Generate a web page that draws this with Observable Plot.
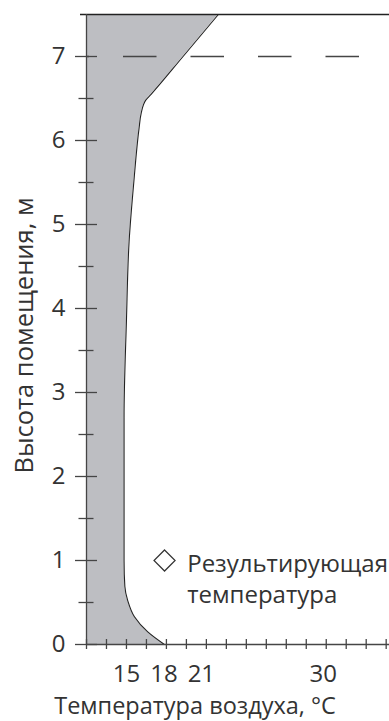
<!DOCTYPE html>
<html><head><meta charset="utf-8">
<script src="https://cdn.jsdelivr.net/npm/d3@7"></script>
<script src="https://cdn.jsdelivr.net/npm/@observablehq/plot@0.6"></script>
<style>body{margin:0;background:#fff;}</style>
</head><body><div id="chart"></div>
<script>
// Profile of air temperature over room height
const heights = [0, 0.15, 0.33, 0.52, 0.69, 1.0, 2.0, 2.7, 3.86, 4.8, 5.5, 6.15, 6.32, 6.48, 6.55, 7.0, 7.5];
const temps   = [17.85, 16.6, 15.6, 15.1, 14.88, 14.82, 14.82, 14.82, 15.0, 15.2, 15.55, 15.95, 16.1, 16.45, 16.85, 19.25, 21.9];

const xTickValues = [12, 13.5, 15, 16.5, 18, 19.5, 21, 22.5, 24, 25.5, 27, 28.5, 30, 31.5, 33, 34.5];
const xLabelValues = [15, 18, 21, 30];
const yMajorTicks = [0, 1, 2, 3, 4, 5, 6, 7];
const yMinorTicks = [0.5, 1.5, 2.5, 3.5, 4.5, 5.5, 6.5];
const topHeight = [7.5];
const dashedHeight = [7];
const xTitle = ["Температура воздуха, °C"];
const yTitle = ["Высота помещения, м"];
const legendLabel = ["Результирующая\nтемпература"];
const legendMarker = [{t: 17.86, h: 1.0}];
const legendText = [{t: 19.56, h: 1.13}];

const xMin = 12, xMax = 34.75, yMax = 7.5;
const profile = heights.map((h, i) => ({h, t: temps[i]}));
const axisColor = "#454545";
const textColor = "#333";
// small visual nudges of the tick labels, as in the original typesetting
const labelNudge = [0, -2.5, -5, -3];

const plot = Plot.plot({
  width: 389, height: 721,
  marginLeft: 86, marginRight: 0, marginTop: 14, marginBottom: 77,
  style: {fontFamily: "'Open Sans', sans-serif", fontSize: "24px", color: textColor, background: "#fff"},
  x: {domain: [xMin, xMax]},
  y: {domain: [0, yMax]},
  marks: [
    Plot.areaX(profile, {x1: xMin, x2: "t", y: "h", curve: "monotone-y", fill: "#bdbec2"}),
    Plot.lineX(profile, {x: "t", y: "h", curve: "monotone-y", stroke: "#222", strokeWidth: 1.1}),
    Plot.ruleY(dashedHeight, {stroke: axisColor, strokeWidth: 1.3, strokeDasharray: "33.5,34", strokeDashoffset: 30.5}),
    Plot.ruleY(topHeight, {stroke: "#222", strokeWidth: 1.5, insetLeft: -6}),
    Plot.ruleX([xMin], {y1: 0, y2: yMax, stroke: axisColor, strokeWidth: 1.3}),
    Plot.ruleY([0], {stroke: axisColor, strokeWidth: 1.3}),
    Plot.ruleX(xTickValues, {y1: 0, y2: 0, insetTop: -5, insetBottom: -5, stroke: axisColor, strokeWidth: 1.3}),
    Plot.ruleY(yMajorTicks, {x1: xMin, x2: xMin, insetLeft: -11, insetRight: -11, stroke: axisColor, strokeWidth: 1.3}),
    Plot.ruleY(yMinorTicks, {x1: xMin, x2: xMin, insetLeft: -7.5, insetRight: -7.5, stroke: axisColor, strokeWidth: 1.3}),
    ...xLabelValues.map((v, i) => Plot.axisX([v], {tickSize: 0, tickPadding: 20.5, fontSize: 24, fill: textColor, label: null, tickFormat: d3.format("d"), dx: labelNudge[i]})),
    Plot.axisY(yMajorTicks, {tickSize: 0, tickPadding: 21, fontSize: 24, fill: textColor, label: null, tickFormat: d3.format("d")}),
    Plot.text(xTitle, {frameAnchor: "bottom", lineAnchor: "middle", dx: -43, dy: 62, fontSize: 23.5, fill: textColor}),
    Plot.text(yTitle, {frameAnchor: "left", rotate: -90, lineAnchor: "middle", textAnchor: "middle", dx: -62, dy: 6, fontSize: 25.5, fill: textColor}),
    Plot.dot(legendMarker, {x: "t", y: "h", symbol: "diamond2", r: 9.5, stroke: "#333", strokeWidth: 1.2, fill: "#fff"}),
    Plot.text(legendText, {x: "t", y: "h", text: () => legendLabel[0], textAnchor: "start", lineAnchor: "top", lineHeight: 1.3, fontSize: 24, fill: textColor})
  ]
});
document.getElementById("chart").appendChild(plot);
</script>
</body></html>
